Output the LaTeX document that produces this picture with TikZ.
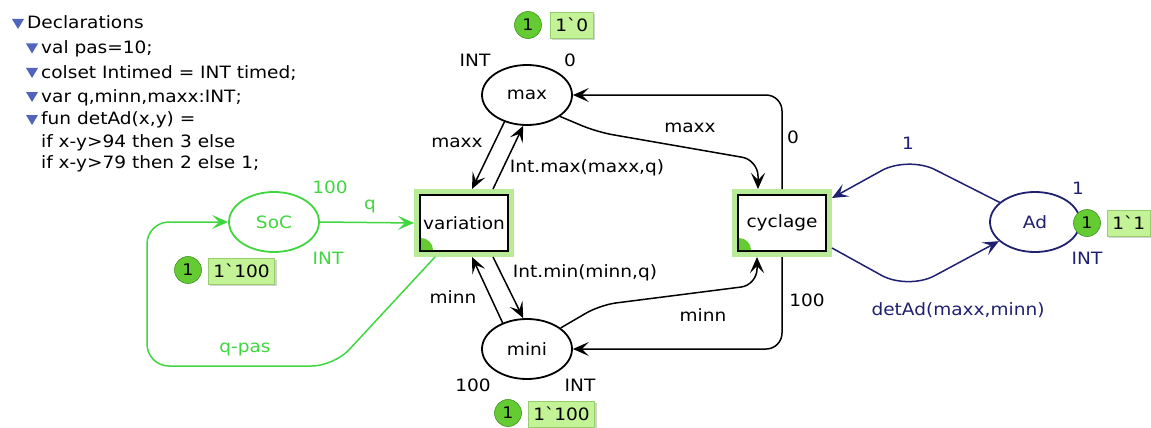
\documentclass[tikz,border=0pt]{standalone}
\usepackage{fontspec}
\setmainfont{DejaVu Sans}[FakeStretch=1.09]
\usetikzlibrary{shapes.geometric,arrows.meta,shadows}
\definecolor{socg}{RGB}{64,214,64}
\definecolor{navy}{RGB}{32,32,112}
\definecolor{halo}{RGB}{184,234,152}
\definecolor{tokg}{RGB}{100,204,50}
\definecolor{tokdark}{RGB}{60,150,30}
\definecolor{boxg}{RGB}{196,242,150}
\definecolor{boxline}{RGB}{150,205,110}
\definecolor{tric}{RGB}{80,100,190}
\begin{document}
\begin{tikzpicture}[x=1pt,y=-1pt,
  lab/.style={font=\fontsize{17}{20}\selectfont, inner sep=0pt},
  place/.style={ellipse, draw, line width=1.8pt, minimum width=90pt, minimum height=60pt, inner sep=0pt, font=\fontsize{17}{20}\selectfont},
  trans/.style={rectangle, draw=black, fill=white, line width=2pt, minimum width=88pt, minimum height=56pt, inner sep=0pt, outer sep=6pt, font=\fontsize{17}{20}\selectfont, preaction={draw=halo, line width=12pt}},
  arc/.style={line width=1.5pt, -{Stealth[length=16pt,width=14pt,inset=7pt]}, rounded corners=16pt},
  tok/.style={circle, fill=tokg, draw=tokdark, line width=0.6pt, minimum size=27pt, inner sep=0pt, font=\fontsize{16}{18}\selectfont},
  tokbox/.style={rectangle, fill=boxg, draw=boxline, line width=0.6pt, minimum height=26pt, inner xsep=5pt, inner ysep=0pt, font=\fontsize{17}{20}\selectfont, drop shadow={opacity=0.35, shadow xshift=2pt, shadow yshift=-2pt}},
  decl/.style={anchor=base west, font=\fontsize{17}{20}\selectfont, inner sep=0pt},
  tri/.pic={\fill[tric] (-6,-4) -- (6,-4) -- (0,6) -- cycle;}
]
\useasboundingbox (0,0) rectangle (1151,428);

% declarations
\pic at (18,23) {tri};
\node[decl] (d0) at (27,29) {Declarations};
\pic at (32,47.5) {tri};
\node[decl] (d1) at (41,53.5) {val pas=10;};
\pic at (32,72) {tri};
\node[decl] (d2) at (41,78) {colset Intimed = INT timed;};
\pic at (32,96) {tri};
\node[decl] (d3) at (41,102) {var q,minn,maxx:INT;};
\pic at (32,119) {tri};
\node[decl] (d4) at (41,124.5) {fun detAd(x,y) =};
\node[decl] (d5) at (41,147.5) {if x-y>94 then 3 else};
\node[decl] (d6) at (41,168.5) {if x-y>79 then 2 else 1;};

% places
\node[place] (max) at (527,95) {max};
\node[place] (mini) at (527,349) {mini};
\node[place, draw=socg, text=socg] (soc) at (274,222) {SoC};
\node[place, draw=navy, text=navy] (ad) at (1035,222) {Ad};

% transitions
\node[trans] (var) at (464,223) {variation};
\node[trans] (cyc) at (782,223) {cyclage};
\fill[tokg] ([xshift=7pt,yshift=7pt]var.south west) -- ++(12,0) arc[start angle=0,end angle=-90,radius=12] -- cycle;
\fill[tokg] ([xshift=7pt,yshift=7pt]cyc.south west) -- ++(12,0) arc[start angle=0,end angle=-90,radius=12] -- cycle;

% black arcs
\draw[arc] (max.-130) -- ([xshift=8pt]var.north);
\draw[arc] ([xshift=29pt]var.north) -- (max.-97);
\draw[arc] ([xshift=29pt]var.south) -- (mini.97);
\draw[arc] (mini.133) -- ([xshift=8pt]var.south);
\draw[arc] (max.-33) -- (597,132) -- (758,160) -- ([xshift=-24pt]cyc.north);
\draw[arc] (cyc.north) -- (782,95) -- (max.east);
\draw[arc] (cyc.south) -- (782,349) -- (mini.east);
\draw[arc] (mini.32) -- (600,305) -- (757,285) -- ([xshift=-25pt]cyc.south);

% green arcs
\draw[arc, socg] (soc.east) -- (var.west);
\draw[arc, socg, rounded corners=22pt] ([xshift=-29pt]var.south) -- (334,366) -- (147,366) -- (147,222) -- (soc.west);

% navy arcs
\draw[arc, navy, rounded corners=30pt] (ad.151) -- (908,156) -- ([yshift=25pt]cyc.east);
\draw[arc, navy, rounded corners=30pt] ([yshift=-25pt]cyc.east) -- (908,290) -- (ad.-152);

% black labels
\node[lab] (l1) at (475,60) {INT};
\node[lab] (l2) at (570,60) {0};
\node[lab] (l3) at (457,143) {maxx};
\node[lab] (l4) at (587,168) {Int.max(maxx,q)};
\node[lab] (l5) at (690,128) {maxx};
\node[lab] (l6) at (793,137) {0};
\node[lab] (l7) at (585,273) {Int.min(minn,q)};
\node[lab] (l8) at (453,297) {minn};
\node[lab] (l9) at (703,315) {minn};
\node[lab] (l10) at (807,300) {100};
\node[lab] (l11) at (473,385) {100};
\node[lab] (l12) at (580,385) {INT};
% green labels
\node[lab, text=socg] (g1) at (330,187) {100};
\node[lab, text=socg] (g2) at (370,207) {q};
\node[lab, text=socg] (g3) at (328,258) {INT};
\node[lab, text=socg] (g4) at (245,350) {q-pas};
% navy labels
\node[lab, text=navy] (n1) at (908,143) {1};
\node[lab, text=navy] (n2) at (958,310) {detAd(maxx,minn)};
\node[lab, text=navy] (n3) at (1078,188) {1};
\node[lab, text=navy] (n4) at (1087,258) {INT};

% tokens
\node[tok] (tmax) at (528,25) {1};
\node[tokbox, anchor=west] (bmax) at (550,25) {1ˋ0};
\node[tok] (tsoc) at (188,270) {1};
\node[tokbox, anchor=west] (bsoc) at (208,271) {1ˋ100};
\node[tok] (tmini) at (508,413) {1};
\node[tokbox, anchor=west] (bmini) at (528,414) {1ˋ100};
\node[tok] (tad) at (1087,223) {1};
\node[tokbox, anchor=west] (bad) at (1107,223) {1ˋ1};
\end{tikzpicture}
\end{document}
